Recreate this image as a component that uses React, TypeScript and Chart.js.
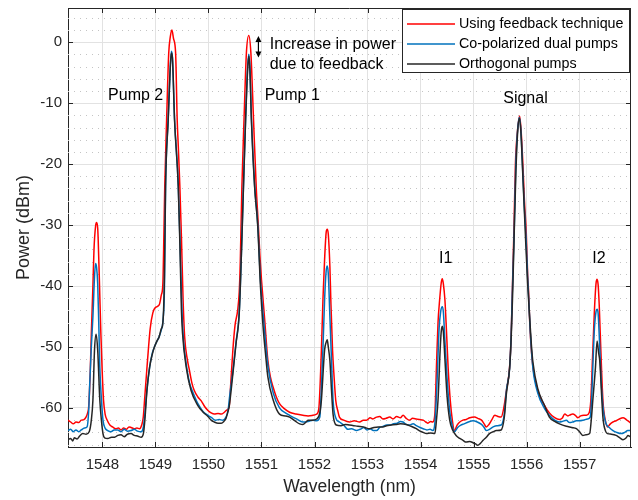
import React, { useEffect, useRef } from 'react';
import { Chart, registerables } from 'chart.js';

Chart.register(...registerables);

const FONT = '"Liberation Sans", Arial, Helvetica, sans-serif';
const AXIS_COLOR = '#262626';

// ---- axis setup ----
const xMin = 1547.35;
const xMax = 1557.97;
const yMin = -66.4;
const yMax = 5.6;
const xTicks = [1548, 1549, 1550, 1551, 1552, 1553, 1554, 1555, 1556, 1557];
const yTicks = [-60, -50, -40, -30, -20, -10, 0];
const yMinorTicks = [-66, -64, -62, -58, -56, -54, -52, -48, -46, -44, -42, -38, -36, -34, -32, -28, -26, -24, -22, -18, -16, -14, -12, -8, -6, -4, -2, 2, 4];

// ---- series: Using feedback technique ----
const redWl = [
  1547.35, 1547.4, 1547.45, 1547.5, 1547.55, 1547.6, 1547.65, 1547.69, 1547.72, 1547.74, 1547.77, 1547.79, 1547.82, 1547.84, 1547.87, 1547.89, 1547.91, 1547.92, 1547.945, 1547.97, 1547.995, 1548.02, 1548.05, 1548.09, 1548.14, 1548.19, 1548.25, 1548.3, 1548.35, 1548.4, 1548.45, 1548.5, 1548.54, 1548.6, 1548.65, 1548.7, 1548.74, 1548.77, 1548.8, 1548.83, 1548.85, 1548.9, 1548.95, 1549.0, 1549.07, 1549.11, 1549.14, 1549.16, 1549.175, 1549.21, 1549.25, 1549.28, 1549.31, 1549.34, 1549.38, 1549.41, 1549.43, 1549.46, 1549.49, 1549.52, 1549.55, 1549.6, 1549.64, 1549.69, 1549.73, 1549.8, 1549.86, 1549.93, 1549.99, 1550.05, 1550.11, 1550.18, 1550.24, 1550.3, 1550.35, 1550.39, 1550.42, 1550.46, 1550.5, 1550.55, 1550.58, 1550.6, 1550.63, 1550.67, 1550.715, 1550.76, 1550.8, 1550.85, 1550.9, 1550.94, 1550.97, 1551.0, 1551.06, 1551.12, 1551.17, 1551.22, 1551.28, 1551.34, 1551.43, 1551.53, 1551.65, 1551.78, 1551.88, 1551.97, 1552.04, 1552.08, 1552.13, 1552.16, 1552.19, 1552.22, 1552.24, 1552.26, 1552.29, 1552.31, 1552.34, 1552.37, 1552.4, 1552.44, 1552.47, 1552.55, 1552.66, 1552.75, 1552.85, 1552.92, 1552.98, 1553.05, 1553.1, 1553.17, 1553.23, 1553.29, 1553.35, 1553.42, 1553.48, 1553.55, 1553.62, 1553.67, 1553.73, 1553.79, 1553.85, 1553.92, 1553.98, 1554.05, 1554.1, 1554.14, 1554.19, 1554.23, 1554.27, 1554.3, 1554.33, 1554.36, 1554.39, 1554.41, 1554.43, 1554.46, 1554.49, 1554.52, 1554.56, 1554.6, 1554.64, 1554.69, 1554.74, 1554.8, 1554.86, 1554.93, 1555.02, 1555.08, 1555.15, 1555.2, 1555.24, 1555.29, 1555.34, 1555.4, 1555.46, 1555.52, 1555.57, 1555.62, 1555.68, 1555.71, 1555.73, 1555.76, 1555.79, 1555.825, 1555.87, 1555.9, 1555.93, 1555.96, 1555.995, 1556.02, 1556.04, 1556.06, 1556.09, 1556.12, 1556.16, 1556.21, 1556.27, 1556.34, 1556.43, 1556.53, 1556.62, 1556.67, 1556.72, 1556.78, 1556.83, 1556.87, 1556.92, 1556.97, 1557.02, 1557.08, 1557.13, 1557.18, 1557.21, 1557.25, 1557.28, 1557.31, 1557.33, 1557.35, 1557.37, 1557.39, 1557.44, 1557.49, 1557.53, 1557.58, 1557.63, 1557.69, 1557.75, 1557.82, 1557.88, 1557.94, 1557.97,
];
const redP = [
  -62.0, -62.3, -62.6, -62.3, -62.4, -62.0, -61.9, -61.5, -60.8, -59.8, -54, -47.8, -40, -34.1, -30.2, -29.6, -30.5, -32.5, -40, -47.8, -54, -58.7, -61, -62, -62.8, -63.1, -63.4, -63.3, -63.6, -63.3, -63.5, -63.1, -63.2, -63.4, -63.3, -63.4, -62.8, -61.5, -58, -54.5, -52.2, -47, -44.4, -43.5, -43.1, -41.5, -39.5, -31, -23.7, -12.8, -1.8, 0.9, 2.0, 0.6, -1.8, -12.8, -17, -23.7, -32, -42, -48.3, -52, -53.8, -56, -57.1, -58.2, -58.8, -59.8, -60.4, -60.8, -61.0, -60.9, -61.0, -60.7, -60.3, -59.8, -56, -50.5, -46.5, -44.0, -41, -36, -23.7, -12.8, -1.8, 1.1, -1.8, -12.8, -23.7, -30, -35, -39, -45.5, -52.2, -55, -56.6, -58.2, -59.3, -60.1, -60.7, -61.0, -61.2, -61.3, -61.2, -61.0, -60.2, -50.5, -42, -35.7, -31.2, -30.7, -31.5, -36.8, -43, -50.5, -55, -58.7, -60.5, -61.5, -62, -62.3, -62.1, -62.3, -62.0, -62.0, -61.6, -61.8, -61.5, -61.4, -61.8, -61.7, -61.5, -61.8, -61.4, -61.6, -61.2, -61.7, -62.0, -61.7, -61.8, -61.9, -62.0, -62.3, -62.5, -62.2, -62.3, -61.0, -53.3, -46, -42.3, -39.5, -38.8, -39.6, -42.3, -47.5, -53.3, -58.7, -62, -63.7, -62.8, -62.3, -62.0, -61.9, -61.6, -61.5, -61.7, -62.0, -62.6, -63.1, -62.7, -62.0, -61.2, -61.4, -61.5, -60.0, -57.1, -53.3, -48, -41.2, -31.4, -19.9, -14.9, -12.1, -14.9, -19.9, -26, -31.4, -38, -41.2, -46, -50.5, -53.3, -55.3, -57.1, -58.5, -59.6, -60.8, -61.6, -61.9, -61.7, -61.0, -61.3, -61.1, -61.0, -61.2, -61.6, -61.3, -61.2, -61.2, -60.8, -59, -50.5, -44, -39.6, -38.9, -39.8, -43, -47.8, -58.7, -62.2, -63.1, -62.6, -62.3, -62.1, -61.8, -61.6, -61.9, -62.3, -62.5,
];

// ---- series: Co-polarized dual pumps ----
const blueWl = [
  1547.35, 1547.4, 1547.45, 1547.5, 1547.55, 1547.6, 1547.66, 1547.71, 1547.74, 1547.76, 1547.79, 1547.82, 1547.85, 1547.87, 1547.89, 1547.91, 1547.93, 1547.95, 1547.98, 1548.01, 1548.05, 1548.1, 1548.16, 1548.22, 1548.29, 1548.35, 1548.41, 1548.47, 1548.54, 1548.6, 1548.66, 1548.73, 1548.77, 1548.8, 1548.84, 1548.89, 1548.94, 1548.98, 1549.03, 1549.07, 1549.11, 1549.14, 1549.17, 1549.19, 1549.24, 1549.28, 1549.3, 1549.32, 1549.36, 1549.43, 1549.47, 1549.5, 1549.53, 1549.58, 1549.64, 1549.7, 1549.8, 1549.9, 1549.99, 1550.06, 1550.13, 1550.2, 1550.27, 1550.33, 1550.37, 1550.4, 1550.46, 1550.52, 1550.58, 1550.62, 1550.66, 1550.7, 1550.74, 1550.76, 1550.78, 1550.81, 1550.87, 1550.93, 1550.98, 1551.04, 1551.12, 1551.22, 1551.34, 1551.45, 1551.53, 1551.66, 1551.78, 1551.88, 1551.97, 1552.04, 1552.1, 1552.13, 1552.16, 1552.19, 1552.22, 1552.24, 1552.26, 1552.29, 1552.32, 1552.35, 1552.4, 1552.47, 1552.55, 1552.63, 1552.7, 1552.79, 1552.86, 1552.93, 1552.99, 1553.05, 1553.11, 1553.17, 1553.23, 1553.3, 1553.36, 1553.42, 1553.49, 1553.56, 1553.62, 1553.67, 1553.73, 1553.79, 1553.86, 1553.92, 1553.99, 1554.05, 1554.12, 1554.18, 1554.23, 1554.27, 1554.31, 1554.35, 1554.38, 1554.41, 1554.43, 1554.46, 1554.5, 1554.55, 1554.6, 1554.64, 1554.7, 1554.76, 1554.82, 1554.9, 1554.99, 1555.07, 1555.15, 1555.2, 1555.24, 1555.3, 1555.37, 1555.44, 1555.52, 1555.58, 1555.62, 1555.68, 1555.71, 1555.73, 1555.765, 1555.795, 1555.83, 1555.865, 1555.895, 1555.925, 1555.955, 1555.99, 1556.02, 1556.04, 1556.07, 1556.12, 1556.21, 1556.34, 1556.43, 1556.53, 1556.62, 1556.68, 1556.75, 1556.81, 1556.87, 1556.94, 1557.0, 1557.07, 1557.15, 1557.2, 1557.23, 1557.25, 1557.28, 1557.31, 1557.33, 1557.35, 1557.38, 1557.41, 1557.45, 1557.5, 1557.56, 1557.63, 1557.7, 1557.79, 1557.85, 1557.91, 1557.97,
];
const blueP = [
  -63.7, -63.5, -63.9, -63.6, -63.9, -63.6, -63.3, -63.1, -60.5, -56, -50, -45, -38.5, -36.3, -37, -39.6, -46, -53.3, -58.5, -62, -63.3, -63.7, -63.9, -63.6, -63.6, -63.9, -63.5, -63.8, -63.7, -63.5, -63.8, -63.9, -63.2, -61, -57, -53.3, -51, -50, -49, -48.3, -47.2, -45.8, -40, -24, -12.6, -4, -1.5, -2.5, -12.6, -23.5, -35, -44, -49, -52.8, -55.8, -57.3, -59.3, -60.6, -61.2, -61.6, -62.0, -61.9, -62.0, -61.5, -60.4, -58, -54.0, -49.2, -44.3, -35, -23.5, -12.6, -3.8, -2.0, -3.8, -12.6, -23.5, -30, -39, -45.5, -53.0, -57.5, -60, -60.8, -61.2, -61.8, -62.3, -62.2, -62.0, -62.1, -61.5, -56.6, -50, -42.3, -37.5, -36.7, -38, -45, -52, -58.7, -61.6, -62.3, -62.8, -63.5, -63.4, -63.7, -63.5, -63.2, -63.6, -63.4, -63.7, -63.7, -63.2, -63.0, -62.8, -62.8, -62.6, -62.5, -62.2, -62.3, -62.7, -62.8, -62.6, -62.9, -63.2, -63.4, -63.6, -63.5, -63.7, -62.5, -56, -47, -44.2, -43.4, -44.2, -49, -55, -60.5, -63, -63.9, -63.2, -62.8, -62.6, -62.3, -62.1, -62.3, -62.7, -63.2, -63.7, -63.5, -63.1, -62.9, -62.8, -61, -57.1, -53.5, -48, -41.5, -31.5, -20.5, -14.5, -12.3, -14.8, -20.5, -26.5, -32, -38.5, -42, -47.5, -53.5, -57.5, -60.1, -61.2, -62.0, -62.3, -62.2, -62.0, -62.4, -62.3, -62.1, -62.1, -62.0, -61.8, -61.5, -58, -53.3, -47, -44.2, -43.8, -44.5, -50, -56, -60.5, -62.6, -63.2, -63.7, -64.0, -64.2, -64.0, -63.7, -63.7,
];

// ---- series: Orthogonal pumps ----
const blackWl = [
  1547.35, 1547.4, 1547.44, 1547.47, 1547.52, 1547.57, 1547.63, 1547.69, 1547.75, 1547.79, 1547.82, 1547.85, 1547.88, 1547.91, 1547.95, 1547.98, 1548.01, 1548.04, 1548.1, 1548.17, 1548.23, 1548.29, 1548.35, 1548.41, 1548.47, 1548.54, 1548.6, 1548.66, 1548.73, 1548.77, 1548.8, 1548.84, 1548.89, 1548.94, 1548.98, 1549.03, 1549.07, 1549.11, 1549.14, 1549.17, 1549.19, 1549.24, 1549.28, 1549.3, 1549.32, 1549.36, 1549.43, 1549.46, 1549.49, 1549.51, 1549.58, 1549.67, 1549.8, 1549.9, 1549.99, 1550.05, 1550.11, 1550.18, 1550.24, 1550.29, 1550.33, 1550.36, 1550.39, 1550.46, 1550.52, 1550.58, 1550.62, 1550.66, 1550.7, 1550.74, 1550.76, 1550.78, 1550.81, 1550.87, 1550.93, 1550.98, 1551.03, 1551.08, 1551.12, 1551.22, 1551.34, 1551.45, 1551.53, 1551.6, 1551.66, 1551.72, 1551.78, 1551.84, 1551.88, 1551.96, 1552.04, 1552.1, 1552.13, 1552.19, 1552.22, 1552.24, 1552.26, 1552.29, 1552.32, 1552.35, 1552.41, 1552.5, 1552.58, 1552.66, 1552.74, 1552.82, 1552.92, 1552.98, 1553.04, 1553.12, 1553.2, 1553.29, 1553.36, 1553.45, 1553.54, 1553.62, 1553.73, 1553.82, 1553.92, 1553.99, 1554.05, 1554.11, 1554.19, 1554.27, 1554.3, 1554.33, 1554.37, 1554.39, 1554.41, 1554.43, 1554.46, 1554.5, 1554.55, 1554.61, 1554.67, 1554.74, 1554.8, 1554.86, 1554.93, 1554.99, 1555.04, 1555.08, 1555.13, 1555.18, 1555.24, 1555.3, 1555.37, 1555.43, 1555.52, 1555.58, 1555.62, 1555.68, 1555.71, 1555.735, 1555.765, 1555.8, 1555.83, 1555.865, 1555.895, 1555.925, 1555.955, 1555.985, 1556.02, 1556.05, 1556.09, 1556.12, 1556.21, 1556.34, 1556.43, 1556.53, 1556.62, 1556.75, 1556.85, 1556.94, 1557.0, 1557.06, 1557.12, 1557.19, 1557.22, 1557.25, 1557.3, 1557.33, 1557.36, 1557.38, 1557.44, 1557.49, 1557.53, 1557.6, 1557.69, 1557.76, 1557.82, 1557.88, 1557.91, 1557.97,
];
const blackP = [
  -65.2, -65.0, -65.4, -64.9, -65.1, -64.6, -64.2, -64.3, -63.9, -62, -58.7, -50.5, -47.9, -50.5, -58.7, -62, -64.2, -64.9, -65.0, -64.8, -64.8, -64.5, -64.4, -64.7, -64.3, -64.2, -64.5, -64.6, -64.8, -64.3, -62, -57, -53.3, -51.2, -50, -49, -48.3, -47, -46, -38, -23.7, -12.8, -4, -1.8, -2.6, -12.8, -23.7, -33, -44, -47.7, -53.3, -57.1, -59.6, -60.7, -61.4, -62.0, -62.3, -62.5, -62.5, -62.2, -61.7, -60.8, -59.8, -54.4, -49.4, -44.5, -35, -23.7, -12.8, -4.3, -2.3, -4.3, -12.8, -23.7, -30.3, -40, -46.7, -51.5, -54.9, -58.7, -61.0, -61.3, -61.5, -61.9, -62.3, -62.6, -62.7, -62.3, -62.0, -62.0, -61.8, -60.8, -58.7, -50.5, -49.2, -48.8, -50, -52.2, -57, -61, -62.8, -62.9, -62.7, -62.8, -62.9, -63.0, -63.1, -63.3, -63.4, -63.2, -63.1, -63.1, -62.9, -62.8, -62.7, -62.6, -62.7, -63.0, -63.4, -63.8, -64.0, -64.2, -64.1, -64.2, -62, -58.7, -50.5, -47.5, -46.6, -47.5, -52, -58, -62, -63.7, -64.5, -65.0, -65.3, -65.6, -65.5, -65.7, -65.9, -66.1, -65.8, -65.3, -64.8, -64.2, -63.9, -63.7, -63.6, -61.5, -57.6, -53.5, -48.5, -42, -32, -21, -15, -12.5, -15, -21, -27, -33, -39.5, -44, -49.5, -52.5, -56.8, -59.6, -61.5, -62.2, -62.6, -63.0, -63.2, -63.4, -63.9, -64.5, -64.4, -64.2, -62, -58.7, -53.3, -49.0, -51, -52.2, -61.5, -63.8, -64.2, -64.3, -64.5, -64.9, -65.2, -64.9, -64.5, -64.8,
];

// ---- text annotations (data coordinates) ----
const annotationText = ['Pump 2', 'Pump 1', 'Increase in power', 'due to feedback', 'Signal', 'I1', 'I2'];
const annotationWl = [1548.106, 1551.06, 1551.155, 1551.155, 1555.56, 1554.35, 1557.24];
const annotationP = [-8.8, -8.8, -0.36, -3.6, -9.3, -35.5, -35.5];
const arrowWl = 1550.942;
const arrowFromP = 1.0;
const arrowToP = -2.5;

const seriesLabels = ['Using feedback technique', 'Co-polarized dual pumps', 'Orthogonal pumps'];
const seriesColors = ['#ff0000', '#0072bd', '#262626'];

const toPoints = (xs: number[], ys: number[]) => xs.map((x, i) => ({ x, y: ys[i] }));

const framePlugin = {
  id: 'matlabFrame',
  beforeDatasetsDraw(chart: any) {
    const { ctx, chartArea } = chart;
    const y = chart.scales.y;
    ctx.save();
    ctx.strokeStyle = '#c4c4c4';
    ctx.lineWidth = 1;
    ctx.setLineDash([1, 5]);
    for (const v of yMinorTicks) {
      const py = Math.round(y.getPixelForValue(v)) + 0.5;
      ctx.beginPath();
      ctx.moveTo(chartArea.left, py);
      ctx.lineTo(chartArea.right, py);
      ctx.stroke();
    }
    ctx.restore();
  },
  afterDatasetsDraw(chart: any) {
    const { ctx, chartArea } = chart;
    const xs = chart.scales.x;
    const ys = chart.scales.y;
    const { left, right, top, bottom } = chartArea;
    ctx.save();
    // box
    ctx.strokeStyle = AXIS_COLOR;
    ctx.lineWidth = 1;
    ctx.setLineDash([]);
    ctx.beginPath();
    ctx.moveTo(left, top + 0.5);
    ctx.lineTo(right, top + 0.5);
    ctx.moveTo(right - 0.5, top);
    ctx.lineTo(right - 0.5, bottom);
    ctx.stroke();
    // inward ticks
    const tl = 5;
    ctx.beginPath();
    for (const v of xTicks) {
      const px = Math.round(xs.getPixelForValue(v)) + 0.5;
      ctx.moveTo(px, bottom);
      ctx.lineTo(px, bottom - tl);
      ctx.moveTo(px, top);
      ctx.lineTo(px, top + tl);
    }
    for (const v of yTicks) {
      const py = Math.round(ys.getPixelForValue(v)) + 0.5;
      ctx.moveTo(left, py);
      ctx.lineTo(left + tl, py);
      ctx.moveTo(right, py);
      ctx.lineTo(right - tl, py);
    }
    ctx.stroke();

    // annotations
    ctx.fillStyle = '#000000';
    ctx.font = `16px ${FONT}`;
    ctx.textAlign = 'left';
    ctx.textBaseline = 'middle';
    annotationText.forEach((t, i) => {
      ctx.fillText(t, xs.getPixelForValue(annotationWl[i]), ys.getPixelForValue(annotationP[i]));
    });
    // double arrow
    const ax = xs.getPixelForValue(arrowWl);
    const ay1 = ys.getPixelForValue(arrowFromP);
    const ay2 = ys.getPixelForValue(arrowToP);
    ctx.strokeStyle = '#000000';
    ctx.lineWidth = 1.2;
    ctx.beginPath();
    ctx.moveTo(ax, ay1 + 4);
    ctx.lineTo(ax, ay2 - 4);
    ctx.stroke();
    ctx.beginPath();
    ctx.moveTo(ax, ay1);
    ctx.lineTo(ax - 3, ay1 + 6);
    ctx.lineTo(ax + 3, ay1 + 6);
    ctx.closePath();
    ctx.moveTo(ax, ay2);
    ctx.lineTo(ax - 3, ay2 - 6);
    ctx.lineTo(ax + 3, ay2 - 6);
    ctx.closePath();
    ctx.fill();

    // legend
    const lw = 228;
    const lh = 64;
    const lx = right - 1 - lw;
    const ly = top + 1;
    ctx.fillStyle = '#ffffff';
    ctx.fillRect(lx, ly, lw, lh);
    ctx.strokeStyle = AXIS_COLOR;
    ctx.lineWidth = 1;
    ctx.strokeRect(lx + 0.5, ly + 0.5, lw - 1, lh - 1);
    ctx.font = `14.3px ${FONT}`;
    ctx.textBaseline = 'middle';
    chart.data.datasets.forEach((ds: any, i: number) => {
      const ry = ly + 15 + i * 20;
      ctx.strokeStyle = ds.borderColor;
      ctx.lineWidth = 1.5;
      ctx.beginPath();
      ctx.moveTo(lx + 5, ry);
      ctx.lineTo(lx + 53, ry);
      ctx.stroke();
      ctx.fillStyle = '#000000';
      ctx.fillText(ds.label, lx + 57, ry);
    });
    ctx.restore();
  },
};

export default function App() {
  const ref = useRef<HTMLCanvasElement | null>(null);
  useEffect(() => {
    if (!ref.current) return;
    const tickFont = { family: FONT, size: 15 };
    const chart = new Chart(ref.current, {
      type: 'line',
      data: {
        datasets: [
          { label: seriesLabels[0], data: toPoints(redWl, redP), borderColor: seriesColors[0], order: 2 },
          { label: seriesLabels[1], data: toPoints(blueWl, blueP), borderColor: seriesColors[1], order: 1 },
          { label: seriesLabels[2], data: toPoints(blackWl, blackP), borderColor: seriesColors[2], order: 0 },
        ],
      },
      options: {
        responsive: false,
        animation: false,
        layout: { padding: { left: 0, right: 7, top: 8, bottom: 0 } },
        elements: {
          point: { radius: 0 },
          line: { borderWidth: 1.5, cubicInterpolationMode: 'monotone', fill: false },
        },
        plugins: { legend: { display: false }, tooltip: { enabled: false } },
        scales: {
          x: {
            type: 'linear',
            min: xMin,
            max: xMax,
            afterBuildTicks: (s: any) => { s.ticks = xTicks.map((v) => ({ value: v })); },
            afterFit: (s: any) => { s.height = 53; s.paddingLeft = 0; s.paddingRight = 0; },
            ticks: { font: tickFont, color: AXIS_COLOR, padding: 9, callback: (v: any) => String(v) },
            grid: { color: '#e2e2e2', drawTicks: false },
            border: { color: AXIS_COLOR, width: 1 },
            title: { display: true, text: 'Wavelength (nm)', font: { family: FONT, size: 17.5 }, color: AXIS_COLOR, padding: { top: 0, bottom: 2 } },
          },
          y: {
            type: 'linear',
            min: yMin,
            max: yMax,
            afterBuildTicks: (s: any) => { s.ticks = yTicks.map((v) => ({ value: v })); },
            afterFit: (s: any) => { s.width = 68; s.paddingTop = 0; s.paddingBottom = 0; },
            ticks: { font: tickFont, color: AXIS_COLOR, padding: 6, callback: (v: any) => String(v) },
            grid: { color: '#e2e2e2', drawTicks: false },
            border: { color: AXIS_COLOR, width: 1 },
            title: { display: true, text: 'Power (dBm)', font: { family: FONT, size: 18 }, color: AXIS_COLOR, padding: { top: 13, bottom: 0 } },
          },
        },
      },
      plugins: [framePlugin],
    } as any);
    return () => chart.destroy();
  }, []);
  return (
    <div style={{ position: 'fixed', left: 0, top: 0, width: 638, height: 500, background: '#ffffff' }}>
      <canvas ref={ref} width={638} height={500} style={{ display: 'block' }} />
    </div>
  );
}
